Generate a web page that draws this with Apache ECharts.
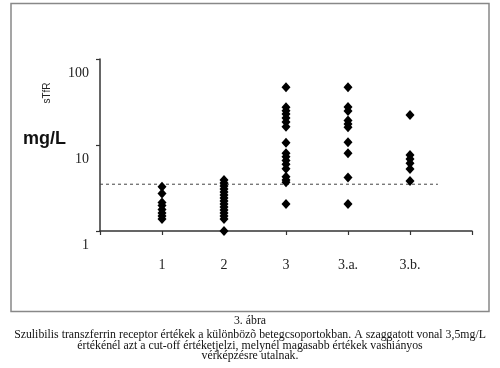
<!DOCTYPE html>
<html>
<head>
<meta charset="utf-8">
<script src="https://cdn.jsdelivr.net/npm/echarts@6/dist/echarts.min.js"></script>
<style>html,body{margin:0;padding:0;background:#fff}#c{width:500px;height:368px}</style>
</head>
<body>
<div id="c"></div>
<script>
var categories = ['1', '2', '3', '3.a.', '3.b.'];
var group1 = [3.27, 2.73, 2.14, 1.98, 1.78, 1.62, 1.49, 1.38];
var group2 = [3.92, 3.62, 3.34, 3.08, 2.84, 2.62, 2.42, 2.23, 2.06, 1.90, 1.75, 1.62, 1.49, 1.38, 1.0];
var group3 = [46.9, 27.4, 25.0, 22.9, 20.6, 18.5, 16.3, 10.6, 8.0, 7.3, 6.6, 5.97, 5.3, 4.28, 3.92, 3.68, 2.06];
var group3a = [46.9, 27.7, 24.8, 19.3, 17.5, 16.1, 10.8, 8.0, 4.19, 2.06];
var group3b = [22.3, 7.65, 6.87, 6.13, 5.26, 3.82];
var cutoff = 3.5;
var cutoffEnd = 5.45;
var yTicks = [1, 10, 100];
var groups = [group1, group2, group3, group3a, group3b];

var chart = echarts.init(document.getElementById('c'), null, {renderer: 'canvas'});
var serif = '"Liberation Serif", "DejaVu Serif", serif';
var series = groups.map(function (g, i) {
  return {
    type: 'scatter',
    symbol: 'diamond',
    symbolSize: [9, 10],
    itemStyle: {color: '#000', opacity: 1},
    data: g.map(function (v) { return [i + 1, v]; }),
    z: 3
  };
});
series.push({
  type: 'line',
  data: [[0, cutoff], [cutoffEnd, cutoff]],
  symbol: 'none',
  lineStyle: {color: '#444', width: 1, type: [3, 3]},
  z: 2
});
chart.setOption({
  animation: false,
  backgroundColor: '#fff',
  grid: {left: 100, top: 59, width: 372, height: 172},
  xAxis: {
    type: 'value', min: 0, max: 6, interval: 1,
    splitLine: {show: false},
    axisLine: {lineStyle: {color: '#333', width: 1.5}},
    axisTick: {show: true, length: 4, lineStyle: {color: '#333', width: 1.2}},
    axisLabel: {
      margin: 27, color: '#222', fontFamily: serif, fontSize: 14,
      formatter: function (v) { return (v >= 1 && v <= categories.length) ? categories[v - 1] : ''; }
    }
  },
  yAxis: {
    type: 'log', logBase: 10, min: 1, max: 100,
    splitLine: {show: false},
    axisLine: {show: true, lineStyle: {color: '#333', width: 1.5}},
    axisTick: {show: true, length: 4, lineStyle: {color: '#333', width: 1.2}},
    axisLabel: {
      margin: 11, color: '#222', fontFamily: serif, fontSize: 14,
      verticalAlign: 'top', lineHeight: 14, padding: [7, 0, 0, 0],
      formatter: function (v) { return yTicks.indexOf(Math.round(v)) >= 0 ? String(Math.round(v)) : ''; }
    }
  },
  graphic: [
    {type: 'rect', shape: {x: 11, y: 3.5, width: 478, height: 308}, style: {fill: 'none', stroke: '#888', lineWidth: 1.5}, z: 0},
    {type: 'text', x: 23, y: 139, style: {text: 'mg/L', font: 'bold 18px "Liberation Sans", Arial, sans-serif', fill: '#111', verticalAlign: 'middle'}},
    {type: 'text', x: 47, y: 93, rotation: Math.PI / 2, style: {text: 'sTfR', font: '10px "Liberation Sans", Arial, sans-serif', fill: '#222', align: 'center', verticalAlign: 'middle'}},
    {type: 'text', x: 250, y: 321, style: {text: '3. ábra', font: '11.8px ' + serif, fill: '#111', align: 'center', verticalAlign: 'middle'}},
    {type: 'text', x: 250, y: 334.5, style: {text: 'Szulibilis transzferrin receptor értékek a különbözõ betegcsoportokban. A szaggatott vonal 3,5mg/L', font: '11.8px ' + serif, fill: '#111', align: 'center', verticalAlign: 'middle'}},
    {type: 'text', x: 250, y: 345.5, style: {text: 'értékénél azt a cut-off értéketjelzi, melynél magasabb értékek vashiányos', font: '11.8px ' + serif, fill: '#111', align: 'center', verticalAlign: 'middle'}},
    {type: 'text', x: 250, y: 356, style: {text: 'vérképzésre utalnak.', font: '11.8px ' + serif, fill: '#111', align: 'center', verticalAlign: 'middle'}}
  ],
  series: series
});
</script>
</body>
</html>
